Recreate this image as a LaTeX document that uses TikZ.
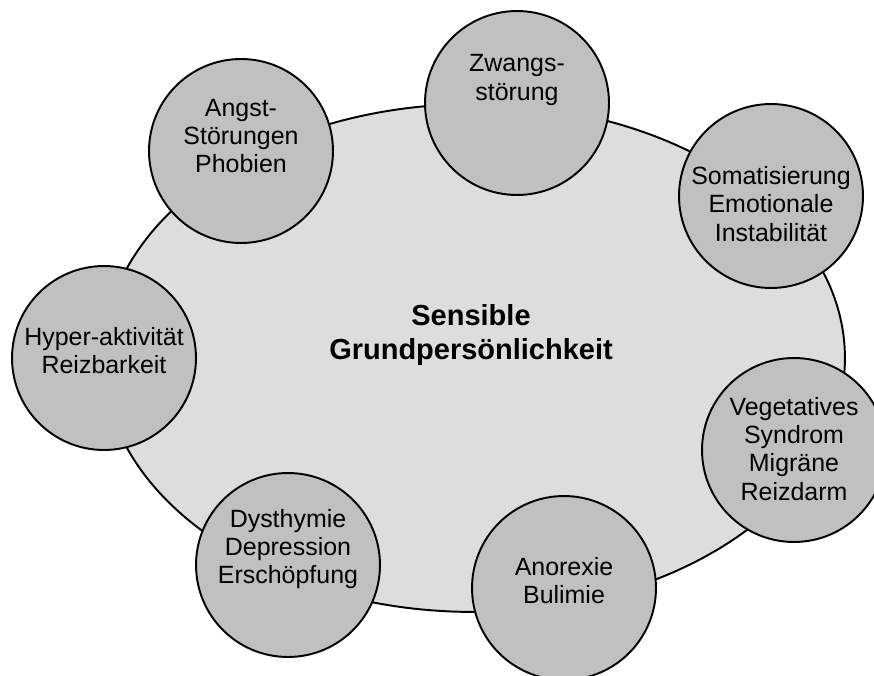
\documentclass[tikz,border=0pt]{standalone}
\usepackage{fontspec}
\setmainfont{Liberation Sans}
\usetikzlibrary{shapes,calc}

\definecolor{coreGray}{HTML}{DDDDDD}
\definecolor{bubbleGray}{HTML}{C0C0C0}

\begin{document}
\begin{tikzpicture}[x=0.02cm,y=-0.02cm]
    \tikzstyle{core} = [ellipse, draw, line width=1.1pt, fill=coreGray, minimum width=14.84cm, minimum height=10.16cm, inner sep=0pt]
    \tikzstyle{bubble} = [circle, draw, line width=1.1pt, fill=bubbleGray, minimum size=3.68cm, inner sep=0pt]
    \tikzstyle{txt} = [align=center, inner sep=0pt, font=\fontsize{14.2}{16}\selectfont]

    \useasboundingbox (0,0) rectangle (874,675);
    \clip (0,0) rectangle (874,675);

    % Centre ..............................
    \node[core] (kern) at (474,358) {};
    \node[txt, font=\fontsize{16.5}{19}\selectfont\bfseries] (kern-t) at (471,335) {Sensible\\Grundpersönlichkeit};

    % Satellites ..........................
    \node[bubble] (angst)  at (241,151) {};
    \node[bubble] (zwang)  at (517,103) {};
    \node[bubble] (somat)  at (771,196) {};
    \node[bubble] (hyper)  at (104,358) {};
    \node[bubble] (veget)  at (794,450) {};
    \node[bubble] (dysth)  at (288,565) {};
    \node[bubble] (anor)   at (564,588) {};

	\node[txt] (angst-t) at ($(angst)+(0,-15)$) {Angst-\\Störungen\\Phobien};
	\node[txt] (zwang-t) at ($(zwang)+(0,-23)$) {Zwangs-\\störung};
	\node[txt] (somat-t) at ($(somat)+(0,8)$) {Somatisierung\\Emotionale\\Instabilität};
	\node[txt] (hyper-t) at ($(hyper)+(0,-7)$) {Hyper-aktivität\\Reizbarkeit};
	\node[txt] (veget-t) at ($(veget)+(0,-1)$) {Vegetatives\\Syndrom\\Migräne\\Reizdarm};
	\node[txt] (dysth-t) at ($(dysth)+(0,-16)$) {Dysthymie\\Depression\\Erschöpfung};
	\node[txt] (anor-t)  at ($(anor)+(0,-7)$) {Anorexie\\Bulimie};

\end{tikzpicture}
\end{document}
